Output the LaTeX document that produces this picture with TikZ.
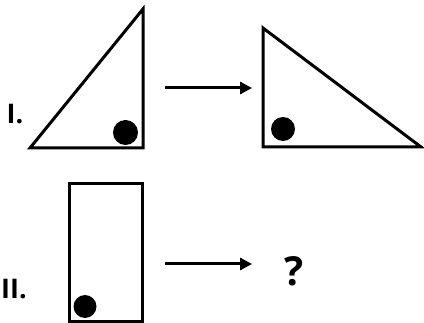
\documentclass[tikz,border=0pt]{standalone}
\usepackage{fontspec}
\setmainfont{Open Sans}
\usetikzlibrary{arrows.meta}
\begin{document}
\begin{tikzpicture}[x=1pt,y=-1pt,
  shape line/.style={line width=3pt},
  dot/.style={fill=black},
  arr/.style={line width=3pt,-{Triangle[length=12pt,width=12pt]}},
  lbl/.style={inner sep=0pt,font=\fontsize{27}{27}\selectfont\bfseries}]
\useasboundingbox (0,0) rectangle (424,323);
% Row I
\draw[shape line] (30,148) -- (143,9) -- (143,148) -- cycle;
\fill[dot] (125.5,132.5) circle (12.5);
\draw[shape line] (263,28) -- (263,147) -- (421,147) -- cycle;
\fill[dot] (283,129) circle (12);
\coordinate (a1s) at (165,88);
\coordinate (a1e) at (252,88);
\draw[arr] (a1s) -- (a1e);
\node[lbl] (l1) at (15,114) {I.};
% Row II
\draw[shape line] (69.5,183.5) rectangle (142.5,321.5);
\fill[dot] (85,306.5) circle (11.5);
\coordinate (a2s) at (165,264);
\coordinate (a2e) at (252,264);
\draw[arr] (a2s) -- (a2e);
\node[lbl] (l2) at (14,289) {II.};
\node[lbl,font=\fontsize{40}{40}\selectfont\bfseries] (q) at (294,271.5) {?};
\end{tikzpicture}
\end{document}
